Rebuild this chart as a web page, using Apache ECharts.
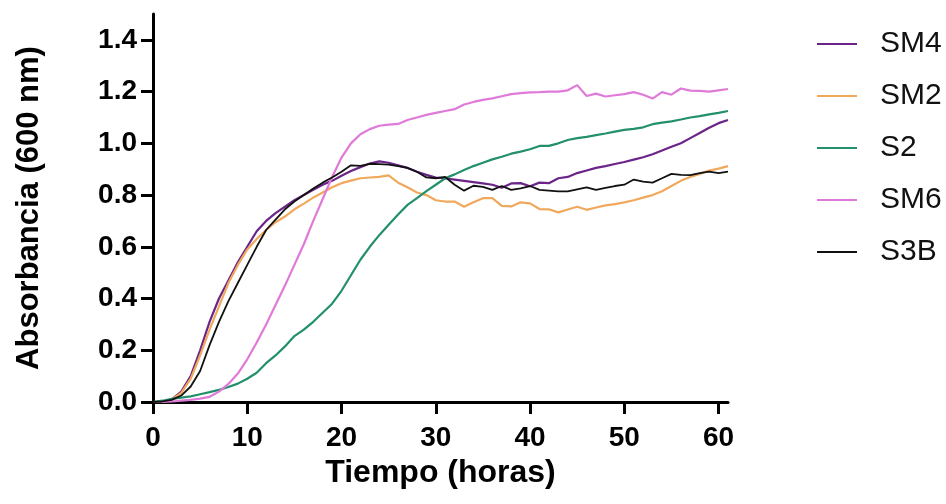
<!DOCTYPE html>
<html>
<head>
<meta charset="utf-8">
<script src="https://cdn.jsdelivr.net/npm/echarts@6/dist/echarts.min.js"></script>
<style>
  html, body { margin: 0; padding: 0; background: #fff; }
  #chart { width: 946px; height: 504px; }
</style>
</head>
<body>
<div id="chart"></div>
<script>
// Growth curves: absorbance at 600 nm, read every hour (0..61 h)
const hours = [0,1,2,3,4,5,6,7,8,9,10,11,12,13,14,15,16,17,18,19,20,21,22,23,24,25,26,27,28,29,30,
  31,32,33,34,35,36,37,38,39,40,41,42,43,44,45,46,47,48,49,50,51,52,53,54,55,56,57,58,59,60,61];

const sm4 = [0,0.002,0.01,0.04,0.1,0.2,0.31,0.4,0.47,0.54,0.6,0.66,0.7,0.73,0.755,0.78,0.8,0.82,0.84,0.855,0.875,
  0.893,0.908,0.922,0.93,0.925,0.915,0.905,0.89,0.878,0.868,0.865,0.86,0.855,0.85,0.845,0.84,0.828,0.845,0.846,0.834,
  0.848,0.846,0.865,0.87,0.885,0.895,0.905,0.912,0.92,0.928,0.937,0.946,0.958,0.972,0.987,1.0,1.02,1.04,1.06,1.078,1.09];

const sm2 = [0,0.002,0.01,0.035,0.09,0.18,0.28,0.37,0.46,0.53,0.59,0.63,0.665,0.695,0.717,0.745,0.767,0.79,0.81,0.83,0.846,
  0.856,0.865,0.868,0.87,0.876,0.848,0.83,0.81,0.8,0.78,0.775,0.775,0.755,0.772,0.788,0.788,0.758,0.756,0.772,0.768,
  0.746,0.745,0.733,0.744,0.755,0.743,0.752,0.76,0.765,0.772,0.78,0.79,0.8,0.815,0.835,0.855,0.87,0.882,0.895,0.902,0.912];

const s2 = [0,0.005,0.012,0.017,0.022,0.03,0.038,0.047,0.058,0.071,0.09,0.113,0.15,0.18,0.215,0.255,0.28,0.31,0.345,0.38,0.43,
  0.49,0.55,0.6,0.645,0.685,0.725,0.762,0.788,0.815,0.84,0.865,0.88,0.897,0.912,0.925,0.938,0.948,0.96,0.968,0.977,
  0.99,0.99,1.0,1.013,1.02,1.025,1.032,1.038,1.045,1.052,1.056,1.062,1.074,1.08,1.085,1.092,1.1,1.105,1.112,1.118,1.125];

const sm6 = [0,0,0.002,0.005,0.008,0.013,0.02,0.04,0.07,0.11,0.165,0.23,0.3,0.375,0.45,0.53,0.61,0.7,0.785,0.87,0.945,
  1.0,1.035,1.055,1.068,1.072,1.075,1.09,1.1,1.11,1.118,1.125,1.132,1.15,1.16,1.168,1.174,1.182,1.19,1.194,1.197,
  1.198,1.2,1.2,1.205,1.225,1.183,1.192,1.181,1.186,1.19,1.198,1.188,1.173,1.198,1.188,1.212,1.204,1.203,1.2,1.205,1.21];

const s3b = [0,0.002,0.008,0.025,0.06,0.12,0.22,0.31,0.39,0.46,0.53,0.6,0.665,0.705,0.745,0.775,0.8,0.825,0.848,0.868,0.89,
  0.915,0.913,0.921,0.92,0.918,0.912,0.905,0.89,0.868,0.865,0.87,0.84,0.817,0.836,0.832,0.82,0.835,0.82,0.826,0.835,
  0.82,0.817,0.814,0.814,0.822,0.83,0.82,0.828,0.835,0.84,0.86,0.852,0.848,0.865,0.882,0.878,0.877,0.885,0.891,0.885,0.891];

const seriesNames = ['SM4', 'SM2', 'S2', 'SM6', 'S3B'];
const seriesColors = ['#6B2488', '#F0A95C', '#23906C', '#E07AD9', '#111111'];
const xTicks = [0, 10, 20, 30, 40, 50, 60];
const yTicks = [0, 0.2, 0.4, 0.6, 0.8, 1.0, 1.2, 1.4];

const seriesValues = [sm4, sm2, s2, sm6, s3b];
const font = 'Liberation Sans, Arial, sans-serif';

const chart = echarts.init(document.getElementById('chart'), null, { renderer: 'canvas' });

const axisCommon = {
  axisLine: { show: true, onZero: false, lineStyle: { color: '#000', width: 3 } },
  axisTick: { show: true, inside: false, length: 12, lineStyle: { color: '#000', width: 3 } },
  splitLine: { show: false }
};

chart.setOption({
  animation: false,
  backgroundColor: '#fff',
  grid: { left: 153, right: 218, top: 14, bottom: 102 },
  legend: {
    orient: 'vertical',
    left: 817,
    top: 29,
    padding: 0,
    icon: 'rect',
    itemWidth: 40,
    itemHeight: 2,
    itemGap: 22,
    data: seriesNames,
    textStyle: { fontFamily: font, fontSize: 30, color: '#111', lineHeight: 30, padding: [0, 0, 0, 18] }
  },
  xAxis: Object.assign({}, axisCommon, {
    type: 'value',
    min: 0,
    max: 61,
    name: 'Tiempo (horas)',
    nameLocation: 'middle',
    nameGap: 50,
    nameTextStyle: { fontFamily: font, fontWeight: 'bold', fontSize: 32, color: '#000' },
    axisTick: Object.assign({}, axisCommon.axisTick, { customValues: xTicks }),
    axisLabel: {
      customValues: xTicks,
      margin: 22,
      fontFamily: font, fontWeight: 'bold', fontSize: 28, color: '#000'
    }
  }),
  yAxis: Object.assign({}, axisCommon, {
    type: 'value',
    min: 0,
    max: 1.5,
    name: 'Absorbancia (600 nm)',
    nameLocation: 'middle',
    nameGap: 108,
    nameTextStyle: { fontFamily: font, fontWeight: 'bold', fontSize: 31, color: '#000' },
    axisTick: Object.assign({}, axisCommon.axisTick, { customValues: yTicks }),
    axisLabel: {
      customValues: yTicks,
      margin: 16,
      formatter: v => v.toFixed(1),
      fontFamily: font, fontWeight: 'bold', fontSize: 28, color: '#000'
    }
  }),
  series: seriesNames.map((name, i) => ({
    name: name,
    type: 'line',
    data: hours.map((h, k) => [h, seriesValues[i][k]]),
    showSymbol: false,
    symbol: 'none',
    lineStyle: { color: seriesColors[i], width: i === 4 ? 1.8 : 2.2 },
    itemStyle: { color: seriesColors[i] },
    clip: false
  }))
});
</script>
</body>
</html>
